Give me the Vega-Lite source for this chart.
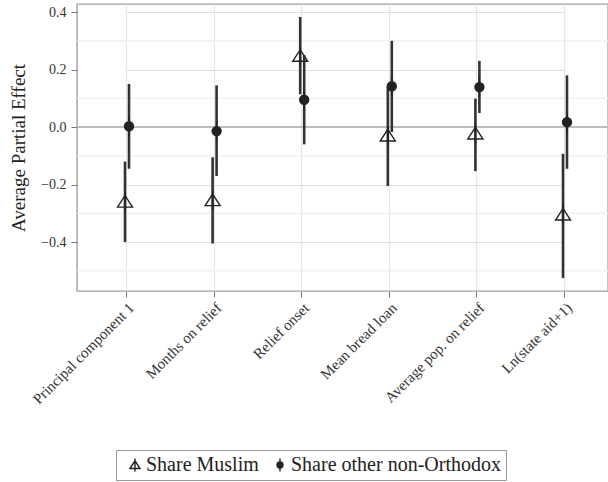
{
  "$schema": "https://vega.github.io/schema/vega-lite/v6.json",
  "width": 531,
  "height": 287,
  "autosize": "none",
  "padding": {"left": 77, "top": 4, "right": 0, "bottom": 191},
  "background": "white",
  "config": {
    "font": "Liberation Serif",
    "view": {"stroke": "#a0a0a0", "strokeWidth": 1.4},
    "axis": {"labelFont": "Liberation Serif", "titleFont": "Liberation Serif", "labelColor": "#333", "titleColor": "#222"},
    "legend": {"labelFont": "Liberation Serif"}
  },
  "datasets": {
    "effects": [
      {"cat": "Principal component 1", "series": "Share Muslim", "est": -0.26, "lo": -0.40, "hi": -0.12},
      {"cat": "Principal component 1", "series": "Share other non-Orthodox", "est": 0.003, "lo": -0.145, "hi": 0.15},
      {"cat": "Months on relief", "series": "Share Muslim", "est": -0.255, "lo": -0.405, "hi": -0.105},
      {"cat": "Months on relief", "series": "Share other non-Orthodox", "est": -0.014, "lo": -0.17, "hi": 0.145},
      {"cat": "Relief onset", "series": "Share Muslim", "est": 0.247, "lo": 0.114, "hi": 0.383},
      {"cat": "Relief onset", "series": "Share other non-Orthodox", "est": 0.095, "lo": -0.06, "hi": 0.25},
      {"cat": "Mean bread loan", "series": "Share Muslim", "est": -0.03, "lo": -0.205, "hi": 0.14},
      {"cat": "Mean bread loan", "series": "Share other non-Orthodox", "est": 0.142, "lo": -0.017, "hi": 0.30},
      {"cat": "Average pop. on relief", "series": "Share Muslim", "est": -0.023, "lo": -0.153, "hi": 0.099},
      {"cat": "Average pop. on relief", "series": "Share other non-Orthodox", "est": 0.139, "lo": 0.049, "hi": 0.23},
      {"cat": "Ln(state aid+1)", "series": "Share Muslim", "est": -0.305, "lo": -0.525, "hi": -0.093},
      {"cat": "Ln(state aid+1)", "series": "Share other non-Orthodox", "est": 0.017, "lo": -0.145, "hi": 0.18}
    ],
    "minorGrid": [
      {"g": -0.5}, {"g": -0.3}, {"g": -0.1}, {"g": 0.1}, {"g": 0.3}
    ]
  },
  "layer": [
    {
      "data": {"name": "minorGrid"},
      "mark": {"type": "rule", "color": "#eeeeee", "strokeWidth": 1.3},
      "encoding": {
        "y": {"field": "g", "type": "quantitative", "scale": {"domain": [-0.57, 0.428], "nice": false, "zero": false}}
      }
    },
    {
      "data": {"name": "minorGrid"},
      "mark": {"type": "rule", "color": "#bdbdbd", "strokeWidth": 1.6},
      "encoding": {
        "y": {"datum": 0, "type": "quantitative"}
      }
    },
    {
      "data": {"name": "effects"},
      "encoding": {
        "x": {
          "field": "cat",
          "type": "nominal",
          "sort": null,
          "scale": {"type": "point", "range": [49, 487], "padding": 0},
          "axis": {
            "title": null,
            "labelAngle": -45,
            "labelFont": "Liberation Serif",
            "labelFontSize": 15,
            "labelPadding": 3,
            "labelColor": "#333",
            "labelLimit": 0,
            "domain": false,
            "grid": true,
            "gridColor": "#e6e6e6",
            "gridWidth": 1.2,
            "tickColor": "#777",
            "tickSize": 6
          }
        },
        "xOffset": {
          "field": "series",
          "type": "nominal",
          "scale": {"type": "point", "range": [-1, 3], "padding": 0, "domain": ["Share Muslim", "Share other non-Orthodox"]}
        }
      },
      "layer": [
        {
          "mark": {"type": "rule", "strokeWidth": 2.6, "color": "#333"},
          "encoding": {
            "y": {"field": "lo", "type": "quantitative"},
            "y2": {"field": "hi"}
          }
        },
        {
          "mark": {"type": "point", "opacity": 1, "stroke": "#222", "strokeWidth": 1.4, "size": 225},
          "encoding": {
            "y": {
              "field": "est",
              "type": "quantitative",
              "axis": {
                "title": "Average Partial Effect",
                "orient": "left",
                "titleFont": "Liberation Serif",
                "titleFontSize": 19,
                "titleFontWeight": "normal",
                "titlePadding": 12,
                "values": [-0.4, -0.2, 0, 0.2, 0.4],
                "format": ".1f",
                "labelFont": "Liberation Serif",
                "labelFontSize": 14,
                "labelPadding": 5,
                "domain": false,
                "tickSize": 6,
                "tickColor": "#777",
                "grid": true,
                "gridColor": "#dedede",
                "gridWidth": 1.2
              }
            },
            "shape": {
              "field": "series",
              "type": "nominal",
              "scale": {
                "domain": ["Share Muslim", "Share other non-Orthodox"],
                "range": [
                  "M0,-1.3L0,1.3M-1,0.7L0,-0.85L1,0.7Z",
                  "M0,-1.3L0,1.3M-0.6,0A0.6,0.6,0,1,1,0.6,0A0.6,0.6,0,1,1,-0.6,0ZM-0.45,0A0.45,0.45,0,1,1,0.45,0A0.45,0.45,0,1,1,-0.45,0ZM-0.3,0A0.3,0.3,0,1,1,0.3,0A0.3,0.3,0,1,1,-0.3,0ZM-0.15,0A0.15,0.15,0,1,1,0.15,0A0.15,0.15,0,1,1,-0.15,0Z"
                ]
              },
              "legend": {
                "title": null,
                "orient": "none",
                "direction": "horizontal",
                "legendX": 39,
                "legendY": 446,
                "padding": 5,
                "strokeColor": "#999",
                "fillColor": "white",
                "labelFont": "Liberation Serif",
                "labelFontSize": 20,
                "labelColor": "#222",
                "labelLimit": 0,
                "symbolSize": 100,
                "symbolOffset": 4,
                "symbolStrokeColor": "#222",
                "symbolFillColor": "transparent",
                "symbolStrokeWidth": 1.4,
                "columnPadding": 7,
                "labelOffset": 1
              }
            }
          }
        }
      ]
    }
  ]
}
